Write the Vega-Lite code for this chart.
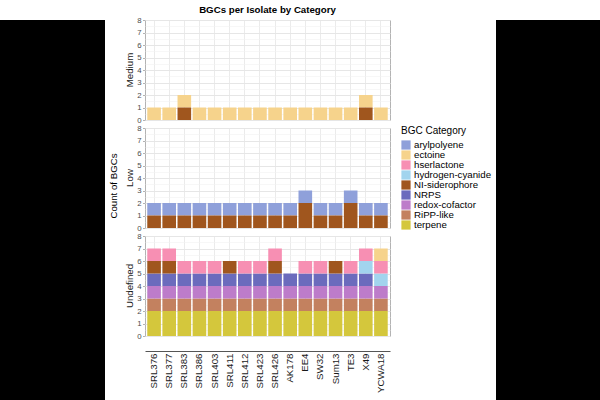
{
  "$schema": "https://vega.github.io/schema/vega-lite/v6.json",
  "background": "white",
  "padding": 0,
  "spacing": 4,
  "datasets": {
    "levels": [
      {"category": "arylpolyene", "level": 1},
      {"category": "ectoine", "level": 2},
      {"category": "hserlactone", "level": 3},
      {"category": "hydrogen-cyanide", "level": 4},
      {"category": "NI-siderophore", "level": 5},
      {"category": "NRPS", "level": 6},
      {"category": "redox-cofactor", "level": 7},
      {"category": "RiPP-like", "level": 8},
      {"category": "terpene", "level": 9}
    ],
    "bgcs": [
      {"isolate": "SRL376", "group": "Medium", "category": "ectoine", "count": 1},
      {"isolate": "SRL377", "group": "Medium", "category": "ectoine", "count": 1},
      {"isolate": "SRL383", "group": "Medium", "category": "ectoine", "count": 1},
      {"isolate": "SRL383", "group": "Medium", "category": "NI-siderophore", "count": 1},
      {"isolate": "SRL386", "group": "Medium", "category": "ectoine", "count": 1},
      {"isolate": "SRL403", "group": "Medium", "category": "ectoine", "count": 1},
      {"isolate": "SRL411", "group": "Medium", "category": "ectoine", "count": 1},
      {"isolate": "SRL412", "group": "Medium", "category": "ectoine", "count": 1},
      {"isolate": "SRL423", "group": "Medium", "category": "ectoine", "count": 1},
      {"isolate": "SRL426", "group": "Medium", "category": "ectoine", "count": 1},
      {"isolate": "AK178", "group": "Medium", "category": "ectoine", "count": 1},
      {"isolate": "EE4", "group": "Medium", "category": "ectoine", "count": 1},
      {"isolate": "SW32", "group": "Medium", "category": "ectoine", "count": 1},
      {"isolate": "Sum13", "group": "Medium", "category": "ectoine", "count": 1},
      {"isolate": "TE3", "group": "Medium", "category": "ectoine", "count": 1},
      {"isolate": "X49", "group": "Medium", "category": "ectoine", "count": 1},
      {"isolate": "X49", "group": "Medium", "category": "NI-siderophore", "count": 1},
      {"isolate": "YCWA18", "group": "Medium", "category": "ectoine", "count": 1},

      {"isolate": "SRL376", "group": "Low", "category": "arylpolyene", "count": 1},
      {"isolate": "SRL376", "group": "Low", "category": "NI-siderophore", "count": 1},
      {"isolate": "SRL377", "group": "Low", "category": "arylpolyene", "count": 1},
      {"isolate": "SRL377", "group": "Low", "category": "NI-siderophore", "count": 1},
      {"isolate": "SRL383", "group": "Low", "category": "arylpolyene", "count": 1},
      {"isolate": "SRL383", "group": "Low", "category": "NI-siderophore", "count": 1},
      {"isolate": "SRL386", "group": "Low", "category": "arylpolyene", "count": 1},
      {"isolate": "SRL386", "group": "Low", "category": "NI-siderophore", "count": 1},
      {"isolate": "SRL403", "group": "Low", "category": "arylpolyene", "count": 1},
      {"isolate": "SRL403", "group": "Low", "category": "NI-siderophore", "count": 1},
      {"isolate": "SRL411", "group": "Low", "category": "arylpolyene", "count": 1},
      {"isolate": "SRL411", "group": "Low", "category": "NI-siderophore", "count": 1},
      {"isolate": "SRL412", "group": "Low", "category": "arylpolyene", "count": 1},
      {"isolate": "SRL412", "group": "Low", "category": "NI-siderophore", "count": 1},
      {"isolate": "SRL423", "group": "Low", "category": "arylpolyene", "count": 1},
      {"isolate": "SRL423", "group": "Low", "category": "NI-siderophore", "count": 1},
      {"isolate": "SRL426", "group": "Low", "category": "arylpolyene", "count": 1},
      {"isolate": "SRL426", "group": "Low", "category": "NI-siderophore", "count": 1},
      {"isolate": "AK178", "group": "Low", "category": "arylpolyene", "count": 1},
      {"isolate": "AK178", "group": "Low", "category": "NI-siderophore", "count": 1},
      {"isolate": "EE4", "group": "Low", "category": "arylpolyene", "count": 1},
      {"isolate": "EE4", "group": "Low", "category": "NI-siderophore", "count": 2},
      {"isolate": "SW32", "group": "Low", "category": "arylpolyene", "count": 1},
      {"isolate": "SW32", "group": "Low", "category": "NI-siderophore", "count": 1},
      {"isolate": "Sum13", "group": "Low", "category": "arylpolyene", "count": 1},
      {"isolate": "Sum13", "group": "Low", "category": "NI-siderophore", "count": 1},
      {"isolate": "TE3", "group": "Low", "category": "arylpolyene", "count": 1},
      {"isolate": "TE3", "group": "Low", "category": "NI-siderophore", "count": 2},
      {"isolate": "X49", "group": "Low", "category": "arylpolyene", "count": 1},
      {"isolate": "X49", "group": "Low", "category": "NI-siderophore", "count": 1},
      {"isolate": "YCWA18", "group": "Low", "category": "arylpolyene", "count": 1},
      {"isolate": "YCWA18", "group": "Low", "category": "NI-siderophore", "count": 1},

      {"isolate": "SRL376", "group": "Undefined", "category": "terpene", "count": 2},
      {"isolate": "SRL376", "group": "Undefined", "category": "RiPP-like", "count": 1},
      {"isolate": "SRL376", "group": "Undefined", "category": "redox-cofactor", "count": 1},
      {"isolate": "SRL376", "group": "Undefined", "category": "NRPS", "count": 1},
      {"isolate": "SRL376", "group": "Undefined", "category": "NI-siderophore", "count": 1},
      {"isolate": "SRL376", "group": "Undefined", "category": "hserlactone", "count": 1},
      {"isolate": "SRL377", "group": "Undefined", "category": "terpene", "count": 2},
      {"isolate": "SRL377", "group": "Undefined", "category": "RiPP-like", "count": 1},
      {"isolate": "SRL377", "group": "Undefined", "category": "redox-cofactor", "count": 1},
      {"isolate": "SRL377", "group": "Undefined", "category": "NRPS", "count": 1},
      {"isolate": "SRL377", "group": "Undefined", "category": "NI-siderophore", "count": 1},
      {"isolate": "SRL377", "group": "Undefined", "category": "hserlactone", "count": 1},
      {"isolate": "SRL383", "group": "Undefined", "category": "terpene", "count": 2},
      {"isolate": "SRL383", "group": "Undefined", "category": "RiPP-like", "count": 1},
      {"isolate": "SRL383", "group": "Undefined", "category": "redox-cofactor", "count": 1},
      {"isolate": "SRL383", "group": "Undefined", "category": "NRPS", "count": 1},
      {"isolate": "SRL383", "group": "Undefined", "category": "hserlactone", "count": 1},
      {"isolate": "SRL386", "group": "Undefined", "category": "terpene", "count": 2},
      {"isolate": "SRL386", "group": "Undefined", "category": "RiPP-like", "count": 1},
      {"isolate": "SRL386", "group": "Undefined", "category": "redox-cofactor", "count": 1},
      {"isolate": "SRL386", "group": "Undefined", "category": "NRPS", "count": 1},
      {"isolate": "SRL386", "group": "Undefined", "category": "hserlactone", "count": 1},
      {"isolate": "SRL403", "group": "Undefined", "category": "terpene", "count": 2},
      {"isolate": "SRL403", "group": "Undefined", "category": "RiPP-like", "count": 1},
      {"isolate": "SRL403", "group": "Undefined", "category": "redox-cofactor", "count": 1},
      {"isolate": "SRL403", "group": "Undefined", "category": "NRPS", "count": 1},
      {"isolate": "SRL403", "group": "Undefined", "category": "hserlactone", "count": 1},
      {"isolate": "SRL411", "group": "Undefined", "category": "terpene", "count": 2},
      {"isolate": "SRL411", "group": "Undefined", "category": "RiPP-like", "count": 1},
      {"isolate": "SRL411", "group": "Undefined", "category": "redox-cofactor", "count": 1},
      {"isolate": "SRL411", "group": "Undefined", "category": "NRPS", "count": 1},
      {"isolate": "SRL411", "group": "Undefined", "category": "NI-siderophore", "count": 1},
      {"isolate": "SRL412", "group": "Undefined", "category": "terpene", "count": 2},
      {"isolate": "SRL412", "group": "Undefined", "category": "RiPP-like", "count": 1},
      {"isolate": "SRL412", "group": "Undefined", "category": "redox-cofactor", "count": 1},
      {"isolate": "SRL412", "group": "Undefined", "category": "NRPS", "count": 1},
      {"isolate": "SRL412", "group": "Undefined", "category": "hserlactone", "count": 1},
      {"isolate": "SRL423", "group": "Undefined", "category": "terpene", "count": 2},
      {"isolate": "SRL423", "group": "Undefined", "category": "RiPP-like", "count": 1},
      {"isolate": "SRL423", "group": "Undefined", "category": "redox-cofactor", "count": 1},
      {"isolate": "SRL423", "group": "Undefined", "category": "NRPS", "count": 1},
      {"isolate": "SRL423", "group": "Undefined", "category": "hserlactone", "count": 1},
      {"isolate": "SRL426", "group": "Undefined", "category": "terpene", "count": 2},
      {"isolate": "SRL426", "group": "Undefined", "category": "RiPP-like", "count": 1},
      {"isolate": "SRL426", "group": "Undefined", "category": "redox-cofactor", "count": 1},
      {"isolate": "SRL426", "group": "Undefined", "category": "NRPS", "count": 1},
      {"isolate": "SRL426", "group": "Undefined", "category": "NI-siderophore", "count": 1},
      {"isolate": "SRL426", "group": "Undefined", "category": "hserlactone", "count": 1},
      {"isolate": "AK178", "group": "Undefined", "category": "terpene", "count": 2},
      {"isolate": "AK178", "group": "Undefined", "category": "RiPP-like", "count": 1},
      {"isolate": "AK178", "group": "Undefined", "category": "redox-cofactor", "count": 1},
      {"isolate": "AK178", "group": "Undefined", "category": "NRPS", "count": 1},
      {"isolate": "EE4", "group": "Undefined", "category": "terpene", "count": 2},
      {"isolate": "EE4", "group": "Undefined", "category": "RiPP-like", "count": 1},
      {"isolate": "EE4", "group": "Undefined", "category": "redox-cofactor", "count": 1},
      {"isolate": "EE4", "group": "Undefined", "category": "NRPS", "count": 1},
      {"isolate": "EE4", "group": "Undefined", "category": "hserlactone", "count": 1},
      {"isolate": "SW32", "group": "Undefined", "category": "terpene", "count": 2},
      {"isolate": "SW32", "group": "Undefined", "category": "RiPP-like", "count": 1},
      {"isolate": "SW32", "group": "Undefined", "category": "redox-cofactor", "count": 1},
      {"isolate": "SW32", "group": "Undefined", "category": "NRPS", "count": 1},
      {"isolate": "SW32", "group": "Undefined", "category": "hserlactone", "count": 1},
      {"isolate": "Sum13", "group": "Undefined", "category": "terpene", "count": 2},
      {"isolate": "Sum13", "group": "Undefined", "category": "RiPP-like", "count": 1},
      {"isolate": "Sum13", "group": "Undefined", "category": "redox-cofactor", "count": 1},
      {"isolate": "Sum13", "group": "Undefined", "category": "NRPS", "count": 1},
      {"isolate": "Sum13", "group": "Undefined", "category": "NI-siderophore", "count": 1},
      {"isolate": "TE3", "group": "Undefined", "category": "terpene", "count": 2},
      {"isolate": "TE3", "group": "Undefined", "category": "RiPP-like", "count": 1},
      {"isolate": "TE3", "group": "Undefined", "category": "redox-cofactor", "count": 1},
      {"isolate": "TE3", "group": "Undefined", "category": "NRPS", "count": 1},
      {"isolate": "TE3", "group": "Undefined", "category": "hserlactone", "count": 1},
      {"isolate": "X49", "group": "Undefined", "category": "terpene", "count": 2},
      {"isolate": "X49", "group": "Undefined", "category": "RiPP-like", "count": 1},
      {"isolate": "X49", "group": "Undefined", "category": "redox-cofactor", "count": 1},
      {"isolate": "X49", "group": "Undefined", "category": "NRPS", "count": 1},
      {"isolate": "X49", "group": "Undefined", "category": "hydrogen-cyanide", "count": 1},
      {"isolate": "X49", "group": "Undefined", "category": "hserlactone", "count": 1},
      {"isolate": "YCWA18", "group": "Undefined", "category": "terpene", "count": 2},
      {"isolate": "YCWA18", "group": "Undefined", "category": "RiPP-like", "count": 1},
      {"isolate": "YCWA18", "group": "Undefined", "category": "redox-cofactor", "count": 1},
      {"isolate": "YCWA18", "group": "Undefined", "category": "hydrogen-cyanide", "count": 1},
      {"isolate": "YCWA18", "group": "Undefined", "category": "hserlactone", "count": 1},
      {"isolate": "YCWA18", "group": "Undefined", "category": "ectoine", "count": 1}
    ]
  },
  "config": {
    "font": "Liberation Sans",
    "view": {"stroke": "#b3b3b3", "strokeWidth": 1}
  },
  "hconcat": [
    {
      "width": 105,
      "height": 400,
      "view": {"fill": "black", "stroke": null},
      "data": {"values": []},
      "mark": {"type": "text"},
      "encoding": {}
    },
    {
      "title": {
        "text": ["", "BGCs per Isolate by Category"],
        "lineHeight": 5,
        "fontSize": 9.7,
        "fontWeight": "bold",
        "color": "black",
        "anchor": "middle",
        "frame": "group",
        "dx": 122.5,
        "offset": 1
      },
      "data": {"name": "bgcs"},
      "transform": [
        {"lookup": "category", "from": {"data": {"name": "levels"}, "key": "category", "fields": ["level"]}}
      ],
      "facet": {
        "row": {
          "field": "group",
          "type": "nominal",
          "sort": ["Medium", "Low", "Undefined"],
          "header": {
            "title": "Count of BGCs",
            "titleOrient": "left",
            "labelOrient": "left",
            "titleFontSize": 9.7,
            "titleFontWeight": "normal",
            "titleColor": "black",
            "titlePadding": -5,
            "labelFontSize": 9.7,
            "labelColor": "#1a1a1a",
            "labelPadding": 2
          }
        }
      },
      "spacing": 8,
      "bounds": "flush",
      "spec": {
        "width": 245,
        "height": 100,
        "mark": {"type": "bar"},
        "encoding": {
          "x": {
            "field": "isolate",
            "type": "nominal",
            "sort": ["SRL376", "SRL377", "SRL383", "SRL386", "SRL403", "SRL411", "SRL412", "SRL423", "SRL426", "AK178", "EE4", "SW32", "Sum13", "TE3", "X49", "YCWA18"],
            "scale": {"paddingInner": 0.1, "paddingOuter": 0.15},
            "axis": {
              "title": null,
              "labelAngle": -90,
              "labelFontSize": 9.7,
              "labelColor": "#1a1a1a",
              "ticks": false,
              "labelPadding": 2,
              "domainColor": "#555555",
              "domainWidth": 1,
              "offset": 15,
              "grid": true,
              "gridColor": "#ebebeb",
              "bandPosition": 0.5
            }
          },
          "y": {
            "field": "count",
            "type": "quantitative",
            "aggregate": "sum",
            "scale": {"domain": [0, 8], "nice": false},
            "axis": {
              "title": null,
              "values": [0, 0.5, 1, 1.5, 2, 2.5, 3, 3.5, 4, 4.5, 5, 5.5, 6, 6.5, 7, 7.5, 8],
              "labelExpr": "datum.value % 1 === 0 ? format(datum.value, 'd') : ''",
              "labelFontSize": 7.8,
              "labelColor": "#4d4d4d",
              "labelPadding": 1.5,
              "labelFlush": false,
              "labelOverlap": false,
              "tickSize": 2.5,
              "tickColor": {"condition": {"test": "datum.value % 1 === 0", "value": "#b3b3b3"}, "value": "transparent"},
              "domain": false,
              "gridColor": {"condition": {"test": "datum.value % 1 === 0", "value": "#e6e6e6"}, "value": "#f2f2f2"},
              "gridWidth": {"condition": {"test": "datum.value % 1 === 0", "value": 1}, "value": 0.6}
            }
          },
          "order": {"field": "level", "type": "quantitative", "sort": "descending"},
          "color": {
            "field": "category",
            "type": "nominal",
            "scale": {
              "domain": ["arylpolyene", "ectoine", "hserlactone", "hydrogen-cyanide", "NI-siderophore", "NRPS", "redox-cofactor", "RiPP-like", "terpene"],
              "range": ["#8fa0da", "#f6d38c", "#f78fb3", "#a2d4ee", "#a0561e", "#6b6bbd", "#bd7cca", "#c3815f", "#d4c73c"]
            },
            "legend": {
              "title": "BGC Category",
              "orient": "none",
              "legendX": 256,
              "legendY": 106,
              "titleFontSize": 10,
              "titleFontWeight": "normal",
              "titleColor": "black",
              "titlePadding": 4,
              "labelFontSize": 9.7,
              "labelColor": "black",
              "labelOffset": 3,
              "symbolType": "square",
              "symbolSize": 85,
              "symbolStrokeWidth": 0,
              "symbolOpacity": 1,
              "rowPadding": 0
            }
          }
        }
      }
    },
    {
      "width": 108,
      "height": 400,
      "view": {"fill": "black", "stroke": null},
      "data": {"values": []},
      "mark": {"type": "text"},
      "encoding": {}
    }
  ],
  "resolve": {"legend": {"color": "independent"}}
}
